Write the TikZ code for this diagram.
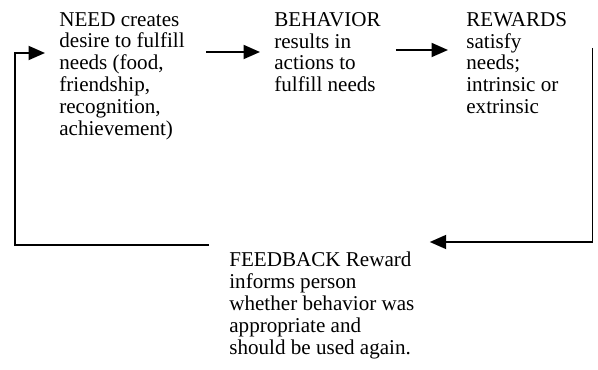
\documentclass[tikz,border=0pt]{standalone}
\usepackage{fontspec}
\setmainfont{Liberation Serif}
\usepackage{tikz}
\usetikzlibrary{arrows.meta,calc}

\begin{document}
\begin{tikzpicture}[
  every node/.append style={font=\fontsize{12}{12.4}\selectfont},
  stage/.style={anchor=north west, inner sep=0pt, align=left},
  flow/.style={line width=1.1pt, -{Triangle[length=0.33cm, width=0.28cm]}},
]

% ---------- page ----------
\useasboundingbox (0,0) rectangle (11.96,-7.4);

% ---------- stages ----------
\node[stage] (need) at (1.18,-0.24)
  {NEED creates\\desire to fulfill\\needs (food,\\friendship,\\recognition,\\achievement)};
\node[stage] (behavior) at (5.48,-0.24)
  {BEHAVIOR\\results in\\actions to\\fulfill needs};
\node[stage] (rewards) at (9.32,-0.24)
  {REWARDS\\satisfy\\needs;\\intrinsic or\\extrinsic};
\node[stage] (feedback) at (4.58,-5.04)
  {FEEDBACK Reward\\informs person\\whether behavior was\\appropriate and\\should be used again.};

% ---------- arrows ----------
\draw[flow] ([shift={(0.42,-0.8)}]need.north east) -- ([shift={(-0.28,-0.8)}]behavior.north west);
\draw[flow] ([shift={(0.3,-0.76)}]behavior.north east) -- ([shift={(-0.36,-0.76)}]rewards.north west);

% ---------- feedback loop ----------
\draw[flow] ([shift={(0.5,-0.72)}]rewards.north east) |- ([shift={(0.3,0.2)}]feedback.north east);
\draw[flow] ([shift={(-0.4,0.14)}]feedback.north west) -| ([shift={(-0.88,-0.82)}]need.north west)
  -- ([shift={(-0.28,-0.82)}]need.north west);

\end{tikzpicture}
\end{document}
